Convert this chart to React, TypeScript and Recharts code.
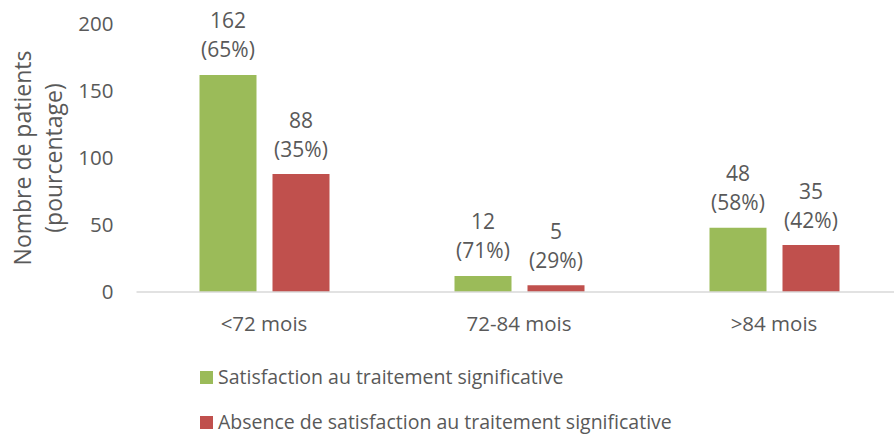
import React from "react";
import { BarChart, Bar, XAxis, YAxis, Legend, LabelList, Label } from "recharts";

const categories = ["<72 mois", "72-84 mois", ">84 mois"];
const satisfied = [162, 12, 48];
const unsatisfied = [88, 5, 35];
const satisfiedPct = ["65%", "71%", "58%"];
const unsatisfiedPct = ["35%", "29%", "42%"];
const yTicks = [0, 50, 100, 150, 200];
const seriesNames = [
  "Satisfaction au traitement significative",
  "Absence de satisfaction au traitement significative",
];
const colors = ["#9BBB59", "#C0504D"];

const data = categories.map((c, i) => ({
  category: c,
  sat: satisfied[i],
  unsat: unsatisfied[i],
  satLabel: `${satisfied[i]}|(${satisfiedPct[i]})`,
  unsatLabel: `${unsatisfied[i]}|(${unsatisfiedPct[i]})`,
}));

const FONT = "'Open Sans', sans-serif";
const TEXT = "#595959";

const TwoLineLabel = (props: any) => {
  const { x, y, width, value } = props;
  const [a, b] = String(value).split("|");
  const cx = Number(x) + Number(width) / 2;
  const top = Number(y);
  return (
    <g>
      <text x={cx} y={top - 54} dy="0.355em" textAnchor="middle" fill={TEXT} fontSize={21} fontFamily={FONT}>
        {a}
      </text>
      <text x={cx} y={top - 25} dy="0.355em" textAnchor="middle" fill={TEXT} fontSize={21} fontFamily={FONT}>
        {b}
      </text>
    </g>
  );
};

const YTitle = (props: any) => {
  const vb = props.viewBox || {};
  const cy = Number(vb.y) + Number(vb.height) / 2;
  return (
    <g transform={`translate(31, ${cy}) rotate(-90)`}>
      <text x={0} y={0} textAnchor="middle" fill={TEXT} fontSize={23} fontFamily={FONT}>
        Nombre de patients
      </text>
      <text x={0} y={31} textAnchor="middle" fill={TEXT} fontSize={23} fontFamily={FONT}>
        (pourcentage)
      </text>
    </g>
  );
};

const LegendContent = () => (
  <div
    style={{
      height: 95,
      boxSizing: "border-box",
      paddingTop: 24,
      paddingLeft: 200,
      fontFamily: FONT,
      fontSize: 19.5,
      color: TEXT,
    }}
  >
    {seriesNames.map((n, i) => (
      <div
        key={n}
        style={{
          height: 22,
          lineHeight: "22px",
          marginBottom: i === 0 ? 23 : 0,
          display: "flex",
          alignItems: "center",
          whiteSpace: "nowrap",
        }}
      >
        <span
          style={{
            display: "inline-block",
            width: 13,
            height: 13,
            background: colors[i],
            marginRight: 5,
          }}
        />
        <span>{n}</span>
      </div>
    ))}
  </div>
);

export default function App() {
  return (
    <div
      style={{
        position: "absolute",
        left: 0,
        top: 0,
        width: 894,
        height: 437,
        overflow: "hidden",
        background: "#fff",
      }}
    >
      <BarChart
        width={902}
        height={437}
        data={data}
        margin={{ top: 24, right: 0.5, bottom: 0, left: 0 }}
        barSize={57}
        barGap={16}
      >
        <XAxis
          dataKey="category"
          height={50}
          axisLine={{ stroke: "#D9D9D9", strokeWidth: 1.5 }}
          tickLine={false}
          tickSize={0}
          tickMargin={24}
          tick={{ fill: TEXT, fontSize: 20.5, fontFamily: FONT }}
          interval={0}
        />
        <YAxis
          width={136.5}
          domain={[0, 200]}
          ticks={yTicks}
          axisLine={false}
          tickLine={false}
          tickSize={0}
          tickMargin={23}
          tick={{ fill: TEXT, fontSize: 20.5, fontFamily: FONT }}
        >
          <Label content={<YTitle />} position="insideLeft" />
        </YAxis>
        <Legend verticalAlign="bottom" align="left" layout="horizontal" content={<LegendContent />} />
        <Bar dataKey="sat" name={seriesNames[0]} fill={colors[0]} isAnimationActive={false}>
          <LabelList dataKey="satLabel" content={<TwoLineLabel />} />
        </Bar>
        <Bar dataKey="unsat" name={seriesNames[1]} fill={colors[1]} isAnimationActive={false}>
          <LabelList dataKey="unsatLabel" content={<TwoLineLabel />} />
        </Bar>
      </BarChart>
    </div>
  );
}
